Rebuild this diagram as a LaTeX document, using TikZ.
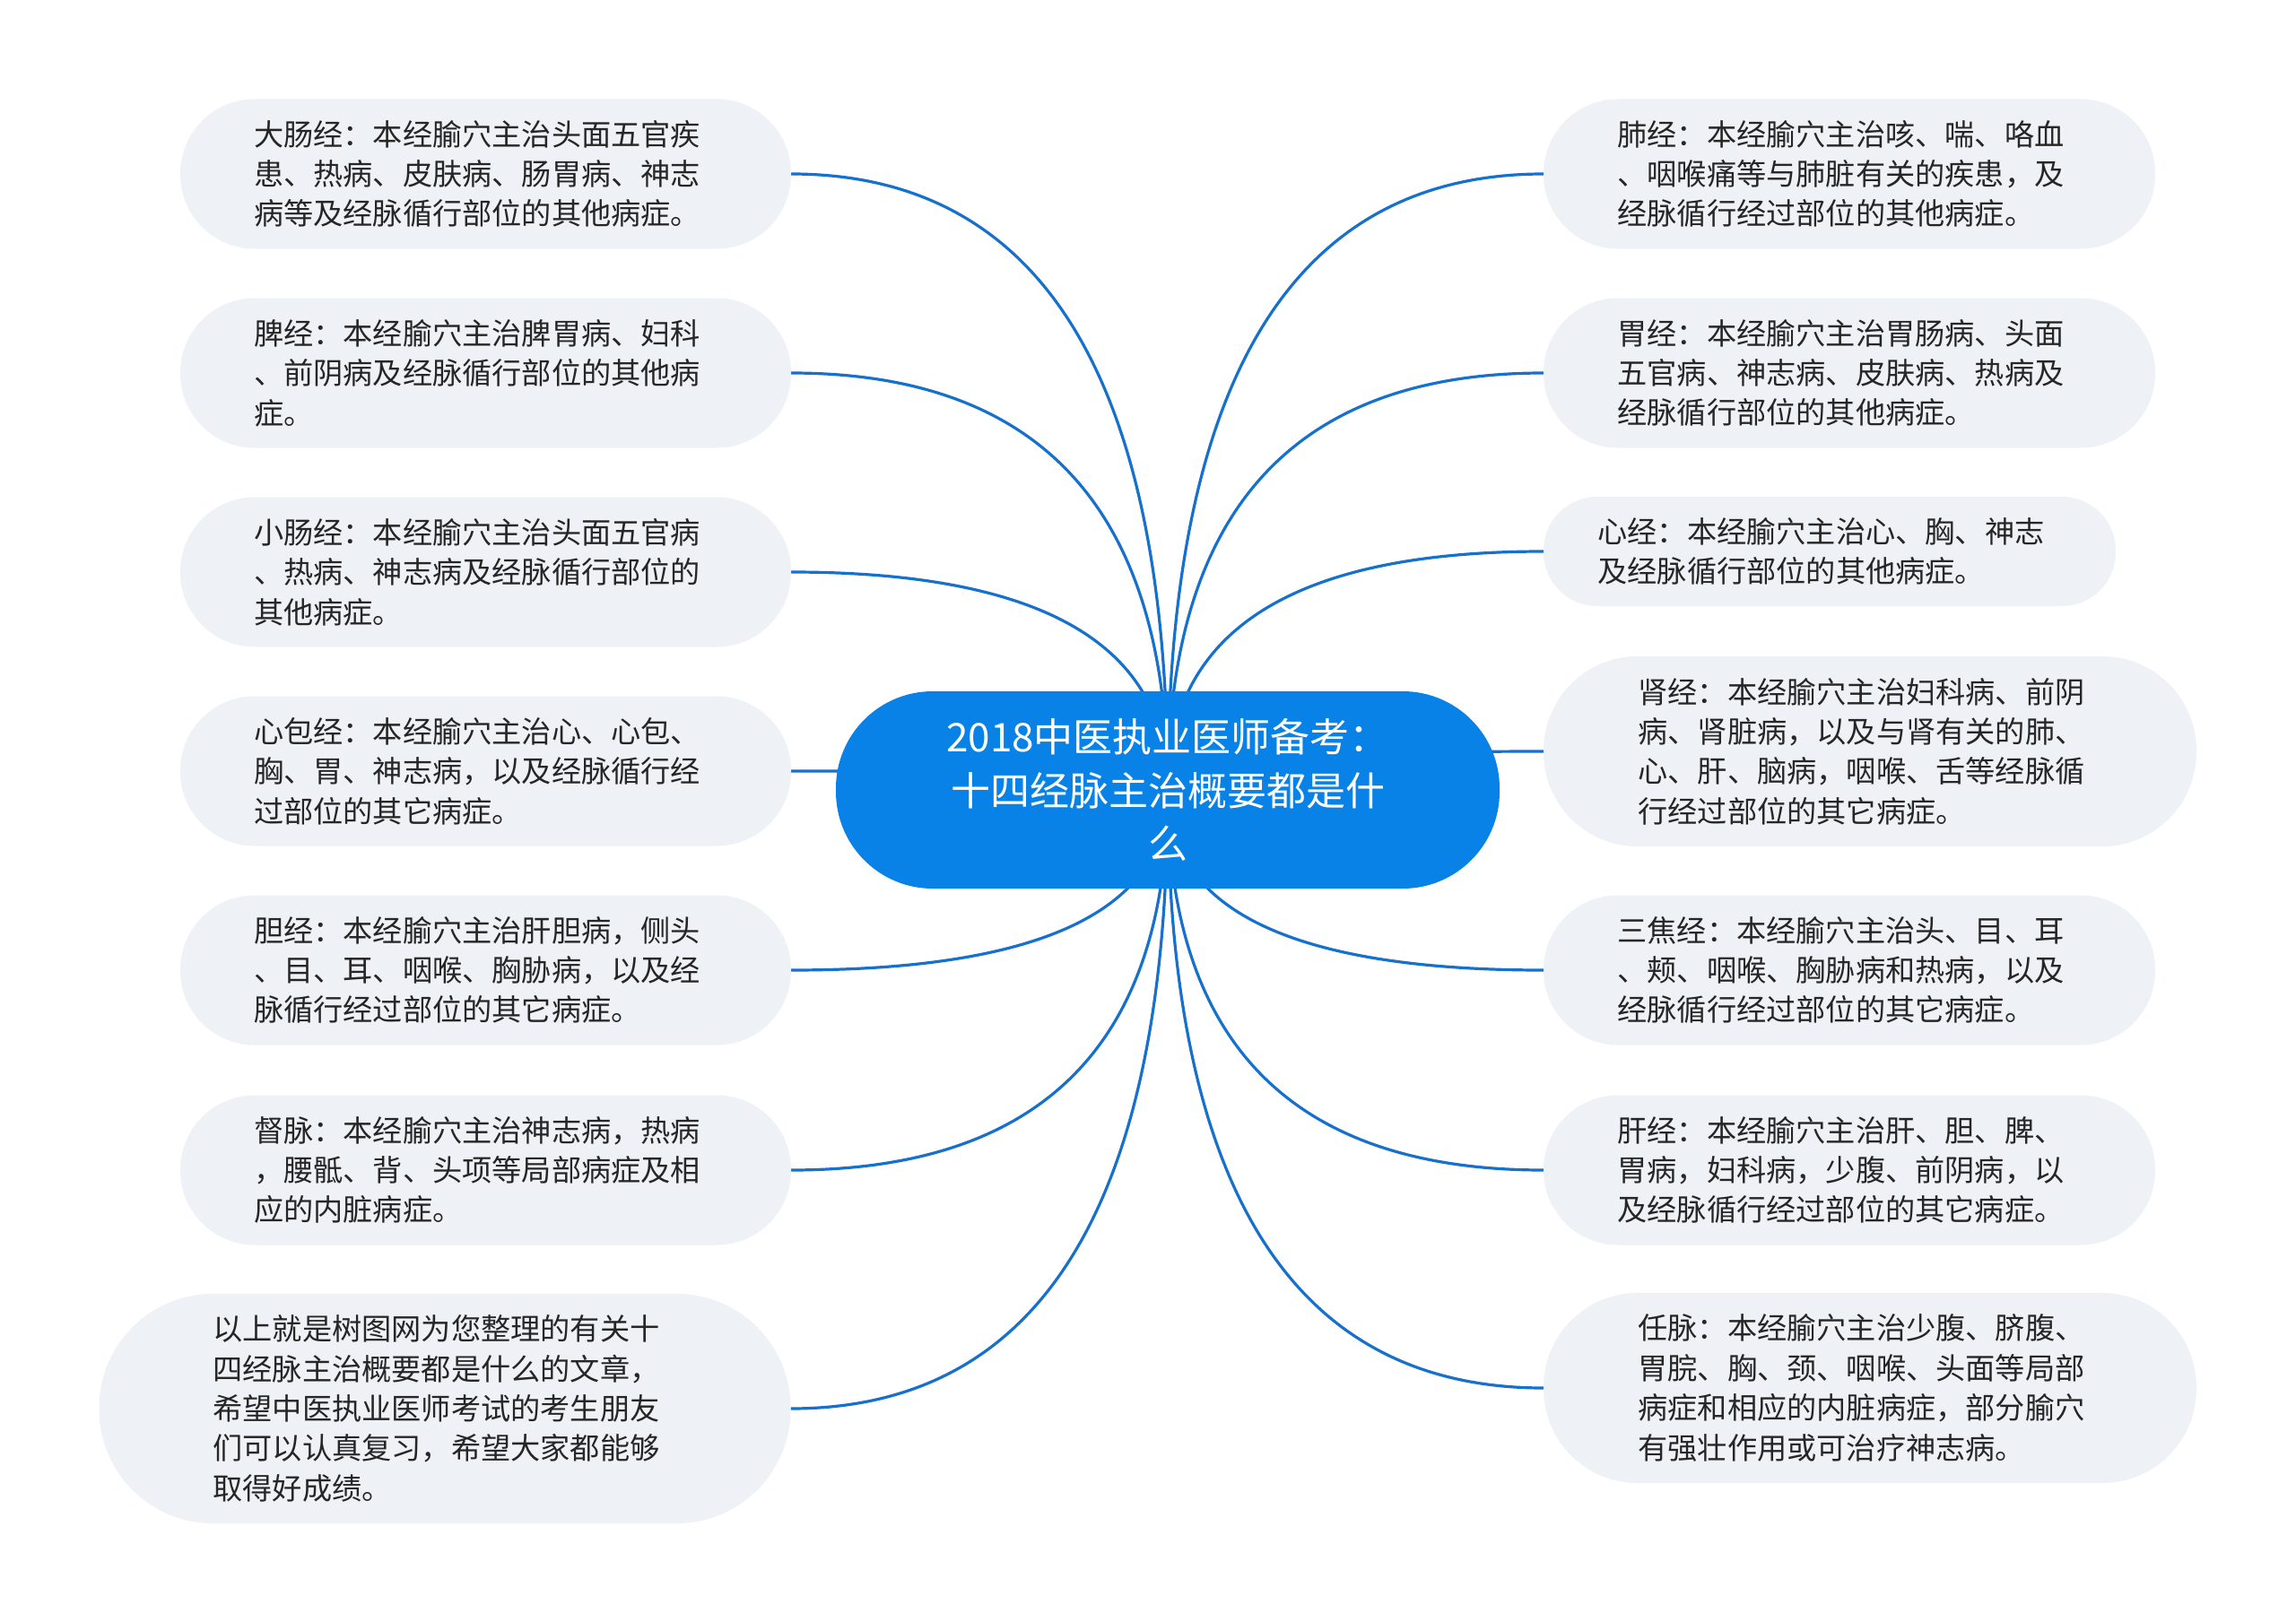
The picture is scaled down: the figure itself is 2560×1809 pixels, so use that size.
\documentclass[tikz,border=0pt]{standalone}
\usepackage{fontspec}
\setmainfont{Noto Sans CJK SC}
\usetikzlibrary{calc}
\pgfdeclarelayer{bg}
\pgfsetlayers{bg,main}
\definecolor{rootblue}{RGB}{8,130,230}
\definecolor{linkblue}{RGB}{22,112,206}
\definecolor{leaffill}{RGB}{238,241,245}
\definecolor{leaftext}{RGB}{38,38,38}
\newcommand\mmlink[2]{%
  \coordinate (k-#1) at (c.center |- #1.#2);
  \draw[linkline] (c.center) .. controls ($(c.center)!0.6667!(k-#1)$) and ($(#1.#2)!0.6667!(k-#1)$) .. (#1.#2);}
\begin{document}
\begin{tikzpicture}[x=1pt,y={(0pt,-1pt)},
  leafbox/.style={fill=leaffill, text=leaftext, inner xsep=0pt, inner ysep=0pt,
    text width=517pt, align=left, font=\fontsize{33.2}{44.4}\selectfont},
  nlines2/.style={minimum height=122pt, rounded corners=60pt},
  nlines3/.style={minimum height=167pt, rounded corners=83pt},
  nlines4/.style={minimum height=212pt, rounded corners=105pt},
  nlines5/.style={minimum height=256pt, rounded corners=127pt},
  rootbox/.style={fill=rootblue, text=white, inner sep=0pt, minimum width=740pt,
    minimum height=220pt, rounded corners=108pt, align=center,
    font=\fontsize{44}{59.6}\selectfont},
  linkline/.style={draw=linkblue, line width=3.2pt}]
\useasboundingbox (0,0) rectangle (2560,1809);
\begin{pgfonlayer}{bg}
\fill[white] (0,0) rectangle (2560,1809);
\end{pgfonlayer}

\node[rootbox] (c) at (1302,881) {2018中医执业医师备考：\\十四经脉主治概要都是什\\么};

\node[leafbox,nlines3,minimum width=681pt] (L1) at (541.5,194) {大肠经：本经腧穴主治头面五官疾\\患、热病、皮肤病、肠胃病、神志\\病等及经脉循行部位的其他病症。};
\node[leafbox,nlines3,minimum width=681pt] (L2) at (541.5,416) {脾经：本经腧穴主治脾胃病、妇科\\、前阴病及经脉循行部位的其他病\\症。};
\node[leafbox,nlines3,minimum width=681pt] (L3) at (541.5,638) {小肠经：本经腧穴主治头面五官病\\、热病、神志病及经脉循行部位的\\其他病症。};
\node[leafbox,nlines3,minimum width=681pt] (L4) at (541.5,860) {心包经：本经腧穴主治心、心包、\\胸、胃、神志病，以及经脉循行经\\过部位的其它病症。};
\node[leafbox,nlines3,minimum width=681pt] (L5) at (541.5,1082) {胆经：本经腧穴主治肝胆病，侧头\\、目、耳、咽喉、胸胁病，以及经\\脉循行经过部位的其它病症。};
\node[leafbox,nlines3,minimum width=681pt] (L6) at (541.5,1305) {督脉：本经腧穴主治神志病，热病\\，腰骶、背、头项等局部病症及相\\应的内脏病症。};
\node[leafbox,nlines5,minimum width=771pt] (L7) at (496,1571) {以上就是树图网为您整理的有关十\\四经脉主治概要都是什么的文章，\\希望中医执业医师考试的考生朋友\\们可以认真复习，希望大家都能够\\取得好成绩。};

\node[leafbox,nlines3,minimum width=682pt] (R1) at (2062,194) {肺经：本经腧穴主治咳、喘、咯血\\、咽喉痛等与肺脏有关的疾患，及\\经脉循行经过部位的其他病症。};
\node[leafbox,nlines3,minimum width=682pt] (R2) at (2062,416) {胃经：本经腧穴主治胃肠病、头面\\五官病、神志病、皮肤病、热病及\\经脉循行部位的其他病症。};
\node[leafbox,nlines2,minimum width=638pt] (R3) at (2040,615) {心经：本经腧穴主治心、胸、神志\\及经脉循行部位的其他病症。};
\node[leafbox,nlines4,minimum width=728pt] (R4) at (2085,838) {肾经：本经腧穴主治妇科病、前阴\\病、肾脏病，以及与肾有关的肺、\\心、肝、脑病，咽喉、舌等经脉循\\行经过部位的其它病症。};
\node[leafbox,nlines3,minimum width=682pt] (R5) at (2062,1082) {三焦经：本经腧穴主治头、目、耳\\、颊、咽喉、胸胁病和热病，以及\\经脉循行经过部位的其它病症。};
\node[leafbox,nlines3,minimum width=682pt] (R6) at (2062,1305) {肝经：本经腧穴主治肝、胆、脾、\\胃病，妇科病，少腹、前阴病，以\\及经脉循行经过部位的其它病症。};
\node[leafbox,nlines4,minimum width=728pt] (R7) at (2085,1548) {任脉：本经腧穴主治少腹、脐腹、\\胃脘、胸、颈、咽喉、头面等局部\\病症和相应的内脏病症，部分腧穴\\有强壮作用或可治疗神志病。};

\begin{pgfonlayer}{bg}
\mmlink{L1}{east}
\mmlink{L2}{east}
\mmlink{L3}{east}
\mmlink{L4}{east}
\mmlink{L5}{east}
\mmlink{L6}{east}
\mmlink{L7}{east}
\mmlink{R1}{west}
\mmlink{R2}{west}
\mmlink{R3}{west}
\mmlink{R4}{west}
\mmlink{R5}{west}
\mmlink{R6}{west}
\mmlink{R7}{west}
\end{pgfonlayer}
\end{tikzpicture}
\end{document}
